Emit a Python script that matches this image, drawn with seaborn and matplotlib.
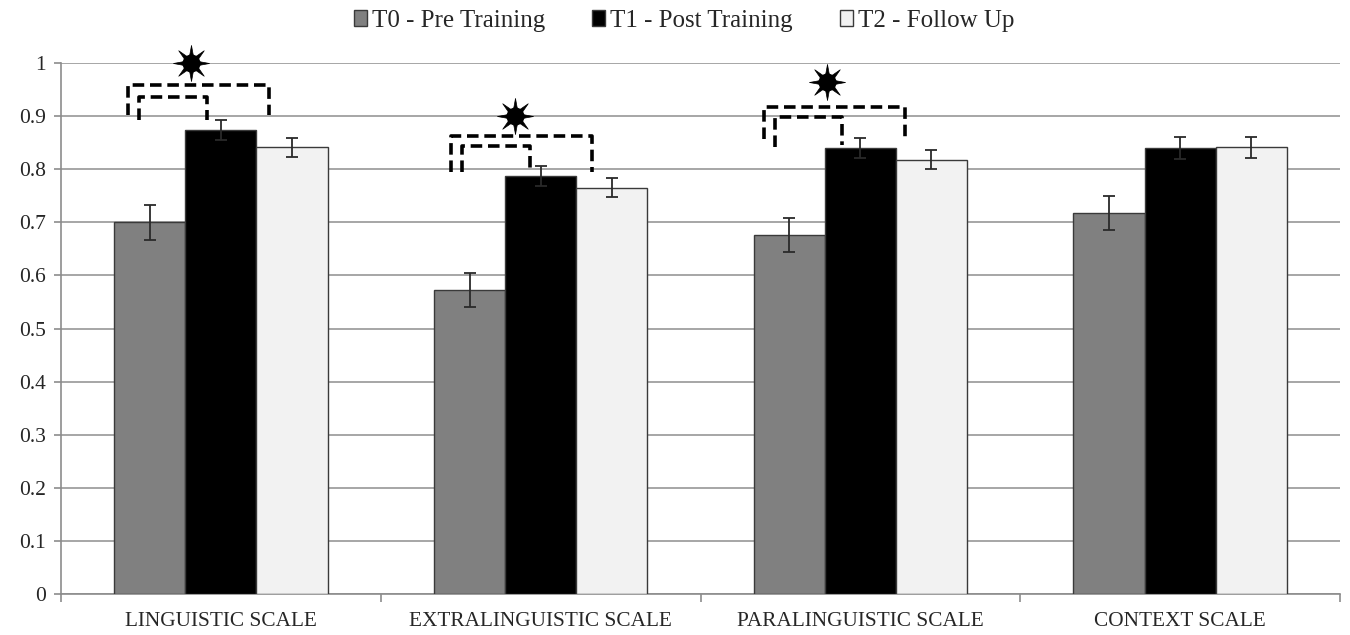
import matplotlib
matplotlib.use("Agg")
import matplotlib.pyplot as plt
from matplotlib.path import Path
import seaborn as sns
import pandas as pd
import numpy as np

# ---------------- data ----------------
categories = ["LINGUISTIC SCALE", "EXTRALINGUISTIC SCALE", "PARALINGUISTIC SCALE", "CONTEXT SCALE"]
series = ["T0 - Pre Training", "T1 - Post Training", "T2 - Follow Up"]
t0_vals = [0.700, 0.572, 0.677, 0.718]
t1_vals = [0.874, 0.787, 0.840, 0.840]
t2_vals = [0.841, 0.765, 0.818, 0.841]
t0_err = [0.033, 0.032, 0.032, 0.032]
t1_err = [0.019, 0.019, 0.019, 0.021]
t2_err = [0.018, 0.018, 0.018, 0.020]
y_ticks = [0, 0.1, 0.2, 0.3, 0.4, 0.5, 0.6, 0.7, 0.8, 0.9, 1.0]
y_tick_labels = ["0", "0.1", "0.2", "0.3", "0.4", "0.5", "0.6", "0.7", "0.8", "0.9", "1"]

# significance annotations (category index, offsets relative to category centre)
sig_cats = [0, 1, 2]
outer_left = [-0.290, -0.279, -0.300]
outer_right = [0.150, 0.162, 0.140]
outer_top = [0.958, 0.863, 0.918]
outer_bot_l = [0.903, 0.795, 0.857]
outer_bot_r = [0.903, 0.795, 0.857]
inner_left = [-0.256, -0.245, -0.266]
inner_right = [-0.044, -0.034, -0.056]
inner_top = [0.936, 0.843, 0.898]
inner_bot_l = [0.893, 0.795, 0.842]
inner_bot_r = [0.893, 0.800, 0.845]
star_x = [-0.094, -0.081, -0.103]
star_y = [1.000, 0.900, 0.965]

colors = ["#808080", "#000000", "#f2f2f2"]

# sun-like star marker: 8 thin rays
n_rays = 8
ang = np.linspace(0, 2 * np.pi, 2 * n_rays, endpoint=False) + np.pi / 2
rad = np.where(np.arange(2 * n_rays) % 2 == 0, 1.0, 0.33)
verts = np.column_stack([rad * np.cos(ang), rad * np.sin(ang)])
verts = np.vstack([verts, verts[:1]])
codes = [Path.MOVETO] + [Path.LINETO] * (len(verts) - 2) + [Path.CLOSEPOLY]
sun_marker = Path(verts, codes)

# ---------------- build frame ----------------
vals = [t0_vals, t1_vals, t2_vals]
errs = [t0_err, t1_err, t2_err]
rows = []
for s, v in zip(series, vals):
    for c, val in zip(categories, v):
        rows.append({"cat": c, "series": s, "value": val})
df = pd.DataFrame(rows)

sns.set_theme(style="white")
plt.rcParams["font.family"] = ["Liberation Serif", "DejaVu Serif"]

fig = plt.figure(figsize=(13.5, 6.35), dpi=100)
ax = fig.add_axes([61 / 1350, 1 - 594 / 635, (1340 - 61) / 1350, (594 - 63) / 635])

sns.barplot(data=df, x="cat", y="value", hue="series", order=categories,
            hue_order=series, palette=colors, width=0.667, gap=0,
            errorbar=None, edgecolor="#3a3a3a", linewidth=1.0, ax=ax,
            zorder=3)

# error bars at bar centres
for cont, e in zip(ax.containers, errs):
    xs = [p.get_x() + p.get_width() / 2 for p in cont.patches]
    ys = [p.get_height() for p in cont.patches]
    ax.errorbar(xs, ys, yerr=e, fmt="none", ecolor="#2a2a2a", elinewidth=1.3,
                capsize=4.5, capthick=1.3, zorder=4)

# brackets and stars
for i, c in enumerate(sig_cats):
    xo = [c + outer_left[i], c + outer_left[i], c + outer_right[i], c + outer_right[i]]
    yo = [outer_bot_l[i], outer_top[i], outer_top[i], outer_bot_r[i]]
    ax.plot(xo, yo, color="black", lw=2.6, ls=(0, (3.2, 1.6)),
            solid_joinstyle="round", dash_joinstyle="round", clip_on=False, zorder=5)
    xi = [c + inner_left[i], c + inner_left[i], c + inner_right[i], c + inner_right[i]]
    yi = [inner_bot_l[i], inner_top[i], inner_top[i], inner_bot_r[i]]
    ax.plot(xi, yi, color="black", lw=2.6, ls=(0, (3.2, 1.6)),
            solid_joinstyle="round", dash_joinstyle="round", clip_on=False, zorder=5)
    ax.plot([c + star_x[i]], [star_y[i]], marker=sun_marker, ms=26, color="black",
            mec="black", mew=0.5, clip_on=False, zorder=6)
    ax.plot([c + star_x[i]], [star_y[i]], marker="o", ms=12, color="black",
            mec="black", clip_on=False, zorder=7)

# axes styling
ax.set_xlim(-0.5, 3.5)
ax.set_ylim(0, 1)
ax.set_yticks(y_ticks)
ax.set_yticklabels(y_tick_labels, fontsize=15.5)
ax.yaxis.grid(True, color="#a6a6a6", lw=1.4, zorder=0)
ax.xaxis.grid(False)
ax.set_axisbelow(True)
ax.set_xlabel("")
ax.set_ylabel("")
ax.set_xticks(range(len(categories)))
ax.set_xticklabels(categories, fontsize=15.3)
ax.set_xticks([-0.5, 0.5, 1.5, 2.5, 3.5], minor=True)
ax.tick_params(axis="x", which="major", length=0, pad=13)
ax.tick_params(axis="x", which="minor", length=6, width=1.2, color="#8c8c8c", direction="out", bottom=True)
ax.tick_params(axis="y", which="major", length=5, width=1.2, color="#8c8c8c", direction="out", left=True, pad=6)
for sp in ["top", "right"]:
    ax.spines[sp].set_visible(False)
for sp in ["left", "bottom"]:
    ax.spines[sp].set_color("#8c8c8c")
    ax.spines[sp].set_linewidth(1.2)

# legend
handles, labels = ax.get_legend_handles_labels()
if ax.get_legend() is not None:
    ax.get_legend().remove()
fig.legend(handles, labels, loc="center", bbox_to_anchor=(0.5 + 9 / 1350, 1 - 21 / 635), ncol=3,
           frameon=False, fontsize=18, handlelength=0.5, handleheight=0.6,
           handletextpad=0.2, columnspacing=1.9, borderaxespad=0)

fig.savefig("out.png", dpi=100)
